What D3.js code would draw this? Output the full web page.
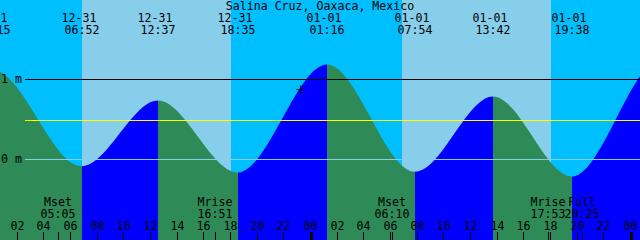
<!DOCTYPE html>
<head>
    <meta charset="utf-8">
    <script src="https://d3js.org/d3.v7.min.js"></script>
    <style>
      body { margin: 0; background: #fff; }
      text {
        font-family: "DejaVu Sans Mono", monospace;
        font-size: 11.6px;
        fill: #000;
      }
    </style>
<body>
    <script>
        var svg_w = 640
        var svg_h = 240
        var title = "Salina Cruz, Oaxaca, Mexico"

        // tide extremes (first and last ones lie off the chart)
        var tideTimes = ["2017-12-30T17:40", "2017-12-31T00:15", "2017-12-31T06:52", "2017-12-31T12:37",
                         "2017-12-31T18:35", "2018-01-01T01:16", "2018-01-01T07:54", "2018-01-01T13:42",
                         "2018-01-01T19:38", "2018-01-02T02:20", "2018-01-02T08:55"]
        var tideLevels = [-0.12, 1.11, -0.09, 0.73, -0.17, 1.18, -0.16, 0.78, -0.22, 1.24, -0.15]

        var sunTimes = ["2017-12-31T06:54", "2017-12-31T18:04", "2018-01-01T06:54", "2018-01-01T18:05"]

        var moonNames = ["Mset", "Mrise", "Mset", "Mrise", "Full"]
        var moonTimes = ["2017-12-31T05:05", "2017-12-31T16:51", "2018-01-01T06:10", "2018-01-01T17:53", "2018-01-01T20:25"]

        var levelTicks = [0, 1]
        var levelLabels = ["0 m", "1 m"]
        var meanLevel = 0.49
        var nowTime = "2017-12-31T23:15"
        var nowLevel = 0.87

        var parse = d3.utcParse("%Y-%m-%dT%H:%M")
        var tides = tideTimes.map(function(t, i){ return {t: parse(t), v: tideLevels[i]} })

        var x = d3.scaleUtc()
          .domain([parse("2017-12-31T00:45"), parse("2018-01-02T00:45")])
          .rangeRound([0, svg_w])
        var y = d3.scaleLinear()
          .domain([0, 1])
          .range([159, 79])

        var svg = d3.select("body")
          .append("svg")
          .attr("width", svg_w)
          .attr("height", svg_h)

        // SKY
        svg.append("rect")
          .attr("width", svg_w)
          .attr("height", svg_h)
          .attr("fill", "#00bfff")
        var days = []
        for (var i = 0; i < sunTimes.length; i += 2) days.push([parse(sunTimes[i]), parse(sunTimes[i+1])])
        svg.selectAll(".day")
          .data(days)
          .enter()
          .append("rect")
          .classed("day", true)
          .attr("x", function(d){ return x(d[0]) })
          .attr("width", function(d){ return x(d[1]) - x(d[0]) })
          .attr("height", svg_h)
          .attr("fill", "#87ceeb")

        // WATER
        var area = d3.area()
          .curve(d3.curveMonotoneX)
          .x(function(d){ return x(d.t) })
          .y0(svg_h)
          .y1(function(d){ return y(d.v) })
        svg.append("clipPath")
          .attr("id", "water")
          .append("path")
          .attr("d", area(tides))
        svg.append("g")
          .attr("clip-path", "url(#water)")
          .selectAll("rect")
          .data(d3.pairs(tides))
          .enter()
          .append("rect")
          .attr("x", function(d){ return x(d[0].t) })
          .attr("width", function(d){ return x(d[1].t) - x(d[0].t) })
          .attr("height", svg_h)
          .attr("fill", function(d){ return d[1].v > d[0].v ? "#0000ff" : "#2e8b57" })

        // LEVEL LINES
        svg.selectAll(".level")
          .data(levelTicks)
          .enter()
          .append("line")
          .classed("level", true)
          .attr("x1", 25).attr("x2", svg_w)
          .attr("y1", function(d){ return Math.round(y(d)) + 0.5 })
          .attr("y2", function(d){ return Math.round(y(d)) + 0.5 })
          .attr("stroke", function(d){ return d == 0 ? "#87ceeb" : "#000" })
        svg.append("line")
          .attr("x1", 25).attr("x2", svg_w)
          .attr("y1", Math.round(y(meanLevel)) + 0.5)
          .attr("y2", Math.round(y(meanLevel)) + 0.5)
          .attr("stroke", "#ffff00")
        svg.selectAll(".levellabel")
          .data(levelTicks)
          .enter()
          .append("text")
          .classed("levellabel", true)
          .attr("x", 1)
          .attr("y", function(d){ return Math.round(y(d)) + 4 })
          .text(function(d, i){ return levelLabels[i] })

        // NOW MARK
        var nx = x(parse(nowTime)) + 0.5, ny = Math.round(y(nowLevel)) + 0.5
        svg.append("path")
          .attr("d", "M" + (nx - 4) + "," + ny + "H" + (nx + 4) + "M" + nx + "," + (ny - 4) + "V" + (ny + 4))
          .attr("stroke", "#000")

        // TITLE + TIDE TIMES
        svg.append("text")
          .attr("x", svg_w / 2)
          .attr("y", 9.5)
          .attr("text-anchor", "middle")
          .text(title)
        var tideLab = svg.selectAll(".tidelabel")
          .data(tides)
          .enter()
          .append("g")
          .classed("tidelabel", true)
          .attr("transform", function(d){ return "translate(" + x(d.t) + ",0)" })
        tideLab.append("text")
          .attr("x", -3)
          .attr("y", 21.5)
          .attr("text-anchor", "middle")
          .text(function(d){ return d3.utcFormat("%m-%d")(d.t) })
        tideLab.append("text")
          .attr("y", 33.5)
          .attr("text-anchor", "middle")
          .text(function(d){ return d3.utcFormat("%H:%M")(d.t) })

        // MOON
        var moon = svg.selectAll(".moon")
          .data(moonTimes.map(function(t, i){ return {t: parse(t), name: moonNames[i]} }))
          .enter()
          .append("g")
          .classed("moon", true)
          .attr("transform", function(d){ return "translate(" + x(d.t) + ",0)" })
        moon.append("text")
          .attr("y", 206)
          .attr("text-anchor", "middle")
          .text(function(d){ return d.name })
        moon.append("text")
          .attr("y", 218)
          .attr("text-anchor", "middle")
          .text(function(d){ return d3.utcFormat("%H:%M")(d.t) })
        moon.append("line")
          .attr("x1", 0.5).attr("x2", 0.5)
          .attr("y1", 232).attr("y2", svg_h)
          .attr("stroke", "#000")

        // HOUR AXIS
        var axis = svg.append("g")
          .attr("transform", "translate(0," + svg_h + ")")
          .call(d3.axisTop(x)
            .ticks(d3.utcHour.every(2))
            .tickFormat(d3.utcFormat("%H"))
            .tickSize(8)
            .tickPadding(2))
        axis.select(".domain").remove()
        axis.selectAll("text")
          .attr("font-family", null)
          .attr("font-size", null)
        svg.selectAll(".midnight")
          .data(x.ticks(d3.utcDay.every(1)))
          .enter()
          .append("rect")
          .classed("midnight", true)
          .attr("x", function(d){ return x(d) })
          .attr("y", 232)
          .attr("width", 3)
          .attr("height", 8)
          .attr("fill", "#000")
    </script>
</body>
